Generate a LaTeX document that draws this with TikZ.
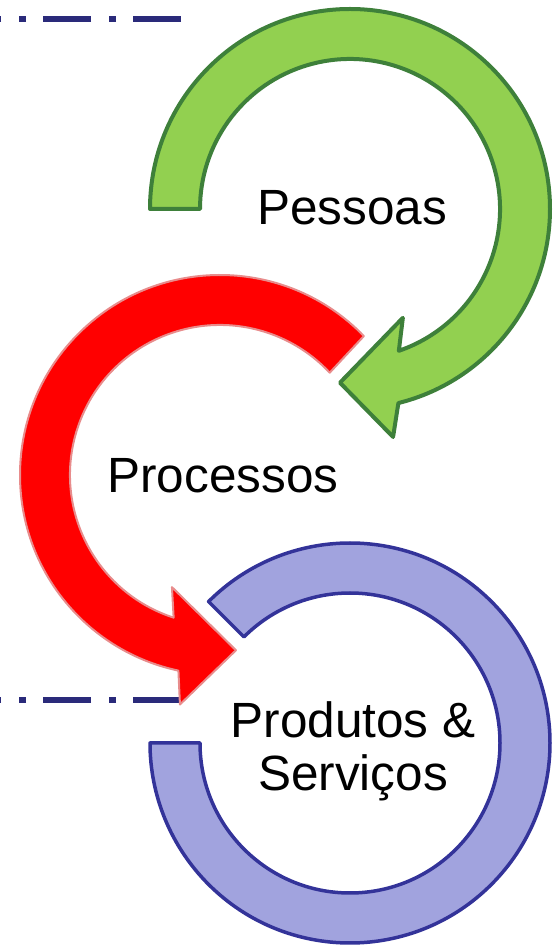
\documentclass[tikz,border=0pt]{standalone}
\usepackage{fontspec}
\setmainfont{Liberation Sans}
\definecolor{leafgreen}{RGB}{146,208,80}
\definecolor{leafdark}{RGB}{62,128,58}
\definecolor{brightred}{RGB}{255,0,0}
\definecolor{palered}{RGB}{232,140,140}
\definecolor{lilac}{RGB}{161,163,222}
\definecolor{navy}{RGB}{51,51,153}
\definecolor{divline}{RGB}{42,42,122}
\begin{document}
\begin{tikzpicture}[x=1pt, y=1pt,
    greenring/.style={fill=leafgreen, draw=leafdark, line width=4pt, line join=round},
    redring/.style={fill=brightred, draw=palered, line width=2pt, line join=round},
    bluering/.style={fill=lilac, draw=navy, line width=3.5pt, line join=round},
    divider/.style={draw=divline, line width=5.5pt, dash pattern=on 48pt off 17pt on 7pt off 18pt},
    ringtext/.style={font=\fontsize{49.5}{53}\selectfont, inner sep=0pt}]
    \useasboundingbox (0,0) rectangle (553,946);
    \def\R{200}
    \def\r{150}
    % dash-dot dividers, drawn from the right end
    \foreach \y in {927,246}{
        \draw[divider] (181,\y)--(0,\y);
    }
    % products ring
    \begin{scope}[shift={(350,203)}]
        \filldraw[bluering] (135:\R) arc[start angle=135, end angle=-180, radius=\R]
            --(-180:\r) arc[start angle=-180, end angle=135, radius=\r]--cycle;
    \end{scope}
    % processes arrow
    \begin{scope}[shift={(220,471)}]
        \filldraw[redring] (44:\R) arc[start angle=44, end angle=258, radius=\R]
            --(260.1:233)--(275.2:176)--(246.8:122)
            --(252:\r) arc[start angle=252, end angle=43, radius=\r]--cycle;
    \end{scope}
    % people arrow
    \begin{scope}[shift={(350,737)}]
        \filldraw[greenring] (180:\R) arc[start angle=180, end angle=-76, radius=\R]
            --(-79.3:232)--(-93.3:174)--(-64.1:121)
            --(-71:\r) arc[start angle=-71, end angle=180, radius=\r]--cycle;
    \end{scope}
    \node[ringtext, anchor=base] (pessoas) at (352,721) {Pessoas};
    \node[ringtext, anchor=base] (processos) at (223,453) {Processos};
    \node[ringtext, align=center] (produtos) at (353,195) {Produtos \&\\Serviços};
\end{tikzpicture}
\end{document}
